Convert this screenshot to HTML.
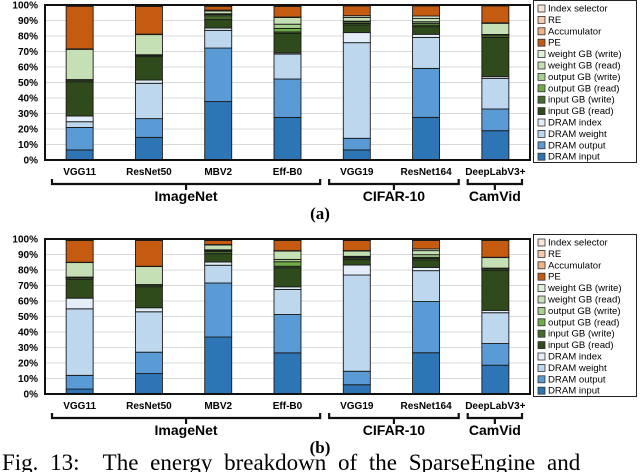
<!DOCTYPE html>
<html><head><meta charset="utf-8"><style>
html,body{margin:0;padding:0;background:#fff;width:640px;height:472px;overflow:hidden;position:relative}
svg{display:block;font-family:"Liberation Sans",Arial,sans-serif}
.cap{position:absolute;left:2px;top:451px;font-family:"Liberation Serif",serif;font-size:23px;line-height:23px;white-space:nowrap;word-spacing:6px}
</style></head><body>
<svg id="chart" width="640" height="472" viewBox="0 0 640 472"></svg>
<div class="cap">Fig. 13:&nbsp; The energy breakdown of the SparseEngine and</div>
<script>
const categories=["VGG11","ResNet50","MBV2","Eff-B0","VGG19","ResNet164","DeepLabV3+"];
const seriesNames=["DRAM input","DRAM output","DRAM weight","DRAM index","input GB (read)","input GB (write)","output GB (read)","output GB (write)","weight GB (read)","weight GB (write)","PE","Accumulator","RE","Index selector"];
const yTicks=["0%","10%","20%","30%","40%","50%","60%","70%","80%","90%","100%"];
const groups=["ImageNet","CIFAR-10","CamVid"];
const groupStart=[0,4,6];
const groupEnd=[3,5,6];
// chart (a)
const dramInputA=[6.5,14.6,37.6,27.5,6.5,27.5,18.9];
const dramOutputA=[14.5,12.1,34.4,24.8,7.5,31.6,14.0];
const dramWeightA=[3.7,22.8,11.4,16.1,61.7,20.0,19.8];
const dramIndexA=[3.7,2.1,1.5,0.8,6.5,2.0,1.1];
const inReadA=[22.1,15.1,5.4,12.5,4.9,4.9,25.3];
const inWriteA=[1.0,0.8,2.5,1.0,1.0,1.0,1.5];
const outReadA=[0.2,0.2,0.8,2.3,1.0,1.2,0.2];
const outWriteA=[0.2,0.2,0.5,2.7,0.5,1.0,0.2];
const wReadA=[19.5,13.0,1.8,4.3,2.4,2.2,7.2];
const wWriteA=[0.3,0.3,0.5,0.3,1.1,1.5,0.3];
const peA=[27.5,17.9,2.5,6.9,6.3,6.5,10.9];
const accA=[0.4,0.5,0.4,0.5,0.3,0.3,0.3];
const reA=[0.2,0.2,0.2,0.2,0.2,0.2,0.2];
const idxA=[0.2,0.2,0.2,0.2,0.1,0.1,0.1];
// chart (b)
const dramInputB=[3.2,13.2,36.9,26.6,6.0,26.6,18.6];
const dramOutputB=[8.9,13.8,35.0,24.8,8.7,33.0,14.0];
const dramWeightB=[43.2,26.1,11.5,16.2,62.2,19.9,19.9];
const dramIndexB=[6.9,2.6,2.1,1.7,6.5,2.1,1.5];
const inReadB=[12.3,13.6,5.4,12.3,3.6,4.8,25.9];
const inWriteB=[1.0,1.0,1.5,1.0,1.0,1.0,1.0];
const outReadB=[0.2,0.2,0.5,2.9,0.5,0.7,0.2];
const outWriteB=[0.2,0.2,0.5,1.5,0.5,1.7,0.2];
const wReadB=[9.4,11.6,3.1,5.4,3.4,2.6,6.8];
const wWriteB=[0.2,0.2,0.3,0.3,0.3,1.1,0.2];
const peB=[14.1,16.6,2.6,6.5,6.5,5.4,10.8];
const accB=[0.4,0.4,0.4,0.4,0.4,0.4,0.4];
const reB=[0.3,0.3,0.3,0.3,0.3,0.3,0.3];
const idxB=[0.3,0.3,0.3,0.3,0.3,0.3,0.3];

const colors=["#2e75b6","#5b9bd5","#bdd7ee","#e4eef8","#2f4b1c","#466b2b","#70ad47","#a9d18e","#c5e0b4","#e2f0d9","#c55a11","#f4b183","#f8cbad","#fbe5d6"];
const NS="http://www.w3.org/2000/svg";
const svg=document.getElementById("chart");
function mk(tag,attrs,parent,text){const e=document.createElementNS(NS,tag);for(const k in attrs)e.setAttribute(k,attrs[k]);if(text!==undefined)e.textContent=text;(parent||svg).appendChild(e);return e;}

function drawChart(id,data,top,letter){
  const L=45,R=530,T=top,B=top+155;
  const g=mk("g",{});
  
  
  const band=(R-L)/categories.length, bw=27;
  const xC=i=>L+band*(i+0.5);
  const yS=p=>B-(B-T)*p/100;
  yTicks.forEach((t,i)=>{
    const y=yS(i*10);
    const gl=mk("line",{x1:L,x2:R,y1:y,y2:y,stroke:"#d9d9d9","stroke-width":1},g);
    
    
    const tl=mk("text",{x:38,y:y+3.5,"text-anchor":"end","font-size":"10","font-weight":"bold"},g,t);
    
    
  });
  categories.forEach((c,i)=>{
    let tot=0;data.forEach(s=>tot+=s[i]);
    let acc=0;
    data.forEach((s,k)=>{
      const v=s[i]/tot*100;
      const y1=yS(acc+v),y0=yS(acc);
      const r=mk("rect",{x:xC(i)-bw/2,y:y1,width:bw,height:Math.max(0,y0-y1),fill:colors[k],stroke:"#1a1a1a","stroke-width":0.9},g);
      
      
      acc+=v;
    });
    const cl=mk("text",{x:xC(i),y:B+15,"text-anchor":"middle","font-size":"10","font-weight":"bold"},g,c);
    
    
  });
  const fr=mk("rect",{x:L,y:T,width:R-L,height:B-T,fill:"none",stroke:"#111","stroke-width":2},g);
  
  
  groups.forEach((gname,j)=>{
    const x0=xC(groupStart[j])-band/2+7, x1=xC(groupEnd[j])+band/2-(j==2?8:2);
    const by=B+24;
    const p=mk("path",{d:`M${x0},${B+19}V${by}H${x1}V${B+19}M${(x0+x1)/2},${by}V${by+6}`,fill:"none",stroke:"#111","stroke-width":2.2},g);
    
    
    const gt=mk("text",{x:(x0+x1)/2,y:B+41,"text-anchor":"middle","font-size":"14","font-weight":"bold"},g,gname);
    
    
  });
  const st=mk("text",{x:320,y:B+59,"text-anchor":"middle","font-size":"17","font-weight":"bold","font-family":"Liberation Serif, serif"},g,letter);
  
  
  // legend
  const lg=mk("g",{},g);
  
  
  mk("rect",{x:533.5,y:T-4.5,width:103,height:162,fill:"#fff",stroke:"#222","stroke-width":1},lg);
  for(let k=13;k>=0;k--){
    const row=13-k, y=T+3+row*11.4;
    const e=mk("g",{},lg);
    
    
    mk("rect",{x:538,y:y-3,width:7,height:7,fill:colors[k],stroke:"#333","stroke-width":0.8},e);
    mk("text",{x:548,y:y+3.5,"font-size":"9.6"},e,seriesNames[k]);
  }
}
drawChart("a",[dramInputA,dramOutputA,dramWeightA,dramIndexA,inReadA,inWriteA,outReadA,outWriteA,wReadA,wWriteA,peA,accA,reA,idxA],5,"(a)");
drawChart("b",[dramInputB,dramOutputB,dramWeightB,dramIndexB,inReadB,inWriteB,outReadB,outWriteB,wReadB,wWriteB,peB,accB,reB,idxB],239,"(b)");
</script>
</body></html>
